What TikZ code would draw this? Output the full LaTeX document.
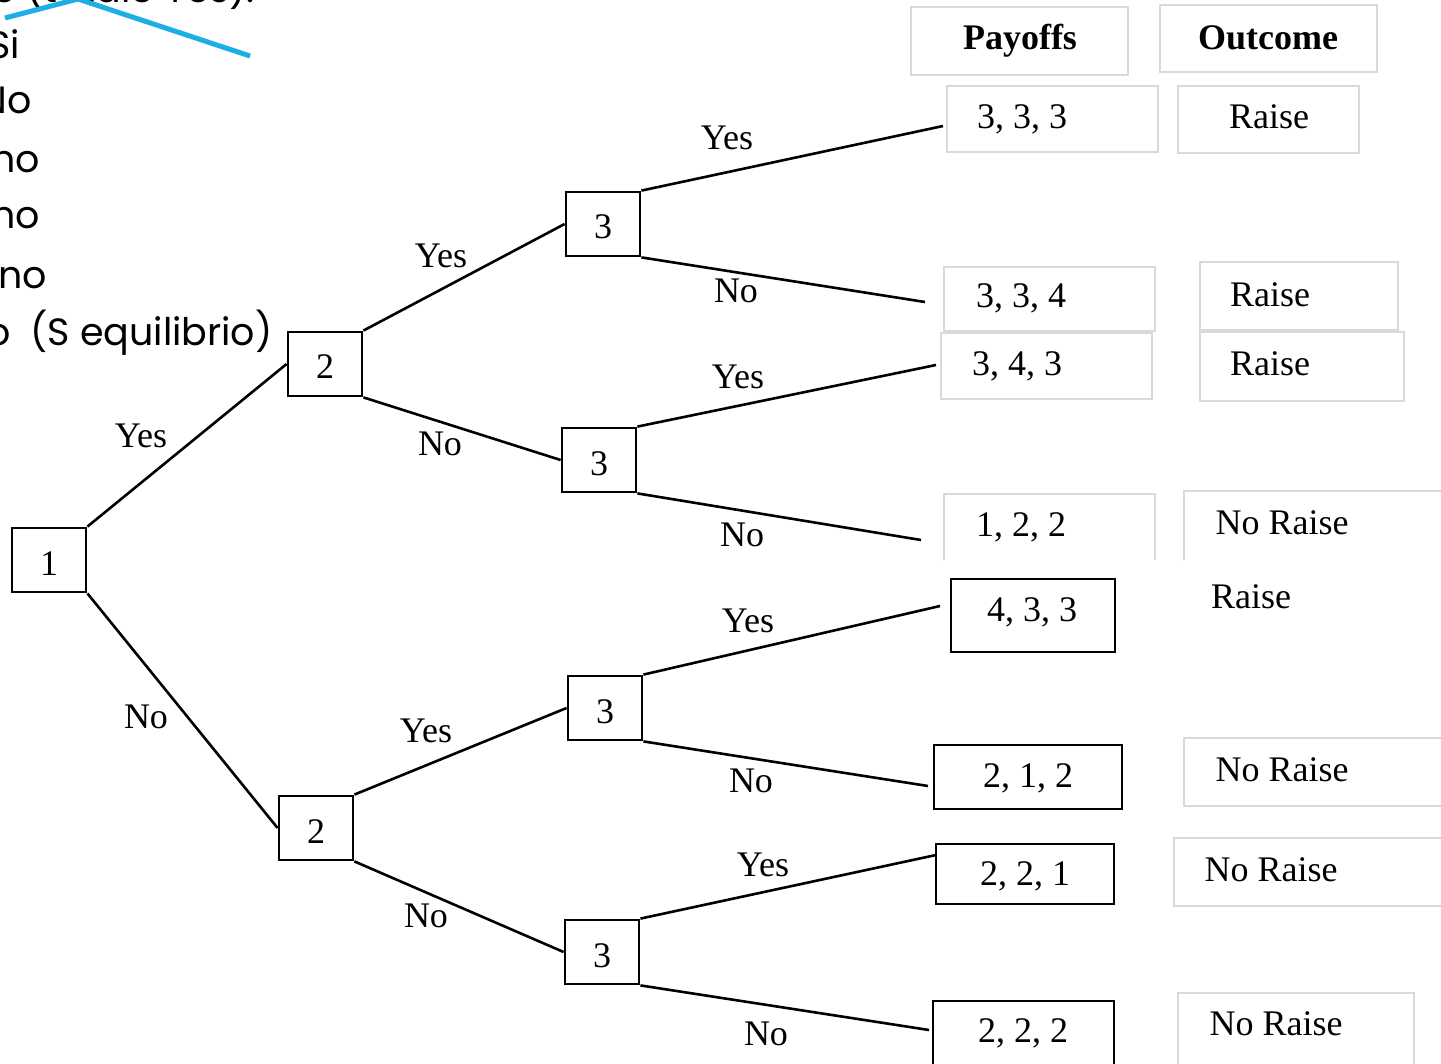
\documentclass[tikz,border=0pt]{standalone}
\usepackage{fontspec}
\setmainfont{Liberation Serif}
\newfontfamily\slidefont{Poppins}
\usetikzlibrary{fit}
\definecolor{callout}{HTML}{1DAEE6}
\definecolor{boxgray}{HTML}{D9D9D9}

\begin{document}
\begin{tikzpicture}[x=0.5pt,y=-0.5pt,
  every node/.style={font=\fontsize{18}{20}\selectfont, inner sep=0pt},
  player/.style={draw, line width=1.4pt, minimum width=37pt, minimum height=32pt,
    text height=15pt, text depth=0pt},
  branch/.style={line width=1.3pt},
  softbox/.style={draw=boxgray, line width=0.8pt, inner sep=0pt},
  hardbox/.style={draw, line width=1.4pt, inner sep=0pt},
  softedge/.style={draw=boxgray, line width=0.8pt},
  slide/.style={font=\slidefont\fontsize{19}{22}\selectfont, anchor=base west},
  head/.style={font=\fontsize{18}{20}\selectfont\bfseries},
]
\useasboundingbox (0,0) rectangle (1441,1064);

% ---- slide text behind the tree (partly cut off at the margins)
\node[slide] (s0) at (-8,3) {e (totale Yes).};
\node[slide] (s1) at (-12,59) {Si};
\node[slide] (s2) at (-20,114) {No};
\node[slide] (s3) at (-9,173) {no};
\node[slide] (s4) at (-9,229) {no};
\node[slide] (s5) at (-2,289) {no};
\node[slide] (s6) at (-14,346) {o};
\node[slide] (s7) at (30,346) {(S equilibrio)};
\draw[callout, line width=2.5pt, line join=round]
  (5,18) -- (78,-1) -- (250,56);

% ---- decision nodes
\node[player] (n1)  at (49,560)  {1};
\node[player] (n2a) at (325,364) {2};
\node[player] (n3a) at (603,224) {3};
\node[player] (n3b) at (599,460) {3};
\node[player] (n2b) at (316,828) {2};
\node[player] (n3c) at (605,708) {3};
\node[player] (n3d) at (602,952) {3};

% ---- free ends of the last branches
\coordinate (e1) at (943,126);
\coordinate (e2) at (925,302);
\coordinate (e3) at (936,365);
\coordinate (e4) at (921,540);
\coordinate (e5) at (940,606);
\coordinate (e6) at (928,786);
\coordinate (e7) at (936,855);
\coordinate (e8) at (929,1030);

% ---- branches
\draw[branch] (n1.north east) -- (n2a.west);
\draw[branch] (n1.south east) -- (n2b.west);
\draw[branch] (n2a.north east) -- (n3a.west);
\draw[branch] (n2a.south east) -- (n3b.west);
\draw[branch] (n2b.north east) -- (n3c.west);
\draw[branch] (n2b.south east) -- (n3d.west);
\draw[branch] (n3a.north east) -- (e1);
\draw[branch] (n3a.south east) -- (e2);
\draw[branch] (n3b.north east) -- (e3);
\draw[branch] (n3b.south east) -- (e4);
\draw[branch] (n3c.north east) -- (e5);
\draw[branch] (n3c.south east) -- (e6);
\draw[branch] (n3d.north east) -- (e7);
\draw[branch] (n3d.south east) -- (e8);

% ---- branch labels
\node (l1)  at (141,436) {Yes};
\node (l2)  at (146,717) {No};
\node (l3)  at (441,256) {Yes};
\node (l4)  at (440,444) {No};
\node (l5)  at (426,731) {Yes};
\node (l6)  at (426,916) {No};
\node (l7)  at (727,138) {Yes};
\node (l8)  at (736,291) {No};
\node (l9)  at (738,377) {Yes};
\node (l10) at (742,535) {No};
\node (l11) at (748,621) {Yes};
\node (l12) at (751,781) {No};
\node (l13) at (763,865) {Yes};
\node (l14) at (766,1034) {No};

% ---- column headers
\node[softbox, fit={(911,7) (1128,75)}] (hp) {};
\node[softbox, fit={(1160,5) (1377,72)}] (ho) {};
\node[head] (hpt) at (1020,41) {Payoffs};
\node[head] (hot) at (1268,38) {Outcome};

% ---- payoff and outcome boxes, upper half
\node[softbox, fit={(947,86) (1158,152)}] (p1) {};
\node[softbox, fit={(1178,86) (1359,153)}] (o1) {};
\node[softbox, fit={(944,267) (1155,331)}] (p2) {};
\node[softbox, fit={(1200,262) (1398,330)}] (o2) {};
\node[softbox, fit={(941,333) (1152,399)}] (p3) {};
\node[softbox, fit={(1200,332) (1404,401)}] (o3) {};
\coordinate (p4a) at (944,560);  \coordinate (p4b) at (1155,494);
\coordinate (o4a) at (1184,560); \coordinate (o4b) at (1450,491);
\draw[softedge] (p4a) |- (p4b) -- (p4b |- p4a);
\draw[softedge] (o4a) |- (o4b);

\node (p1t) at (1022,119) {3, 3, 3};
\node (o1t) at (1269,117) {Raise};
\node (p2t) at (1021,298) {3, 3, 4};
\node (o2t) at (1270,295) {Raise};
\node (p3t) at (1017,366) {3, 4, 3};
\node (o3t) at (1270,364) {Raise};
\node (p4t) at (1021,527) {1, 2, 2};
\node (o4t) at (1282,523) {No Raise};

% ---- payoff and outcome boxes, lower half
\node[hardbox, fit={(951,579) (1115,652)}] (p5) {};
\node[hardbox, fit={(934,745) (1122,809)}] (p6) {};
\node[hardbox, fit={(936,844) (1114,904)}] (p7) {};
\node[hardbox, fit={(933,1001) (1114,1080)}] (p8) {};
\node[softbox, fit={(1184,738) (1450,806)}] (o6) {};
\node[softbox, fit={(1174,838) (1450,906)}] (o7) {};
\node[softbox, fit={(1178,993) (1414,1080)}] (o8) {};

\node (p5t) at (1032,612) {4, 3, 3};
\node (o5t) at (1251,597) {Raise};
\node (p6t) at (1028,778) {2, 1, 2};
\node (o6t) at (1282,770) {No Raise};
\node (p7t) at (1025,876) {2, 2, 1};
\node (o7t) at (1271,870) {No Raise};
\node (p8t) at (1023,1033) {2, 2, 2};
\node (o8t) at (1276,1024) {No Raise};
\end{tikzpicture}
\end{document}
